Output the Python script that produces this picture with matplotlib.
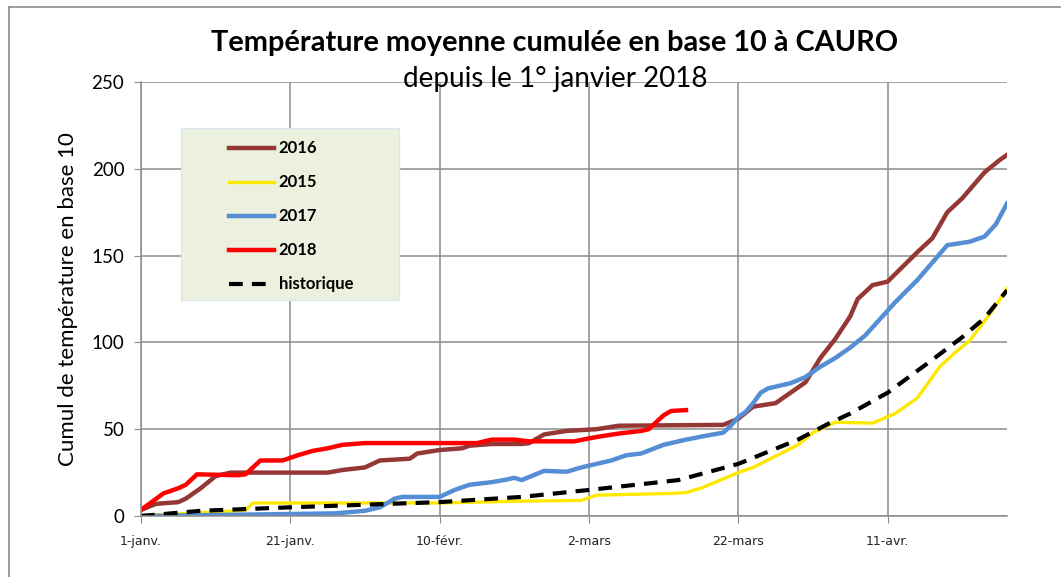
import matplotlib
matplotlib.use("Agg")
import matplotlib.pyplot as plt
from matplotlib.lines import Line2D
from matplotlib.patches import Rectangle

# jours depuis le 1er janvier (index de categorie) et cumul en base 10
jours_2016 = [0, 2, 5, 6, 8, 10, 12, 25, 27, 30, 32, 36, 37, 40, 43, 44, 47, 51, 52, 54, 57, 61, 64,
              78, 80, 82, 85, 87, 89, 91, 93, 95, 96, 98, 100, 104, 106, 108, 110, 113, 115, 116]
cumul_2016 = [3.5, 7, 8, 10, 16, 23, 25, 25, 26.5, 28, 32, 33, 36, 38, 39, 40.5, 41.5, 41.5, 42, 47, 49, 50, 52,
              52.5, 56, 63, 65, 71, 77, 91, 102, 115, 125, 133, 135, 152, 160, 175, 183, 198, 205, 208]

jours_2015 = [0, 5, 10, 14, 15, 40, 50, 59, 61, 71, 73, 75, 80, 82, 88, 90, 93, 98, 101, 104, 106, 107,
              109, 111, 114, 116]
cumul_2015 = [0.3, 1.3, 2.3, 3.3, 7.5, 7.5, 8.5, 9, 12, 13, 13.5, 16, 25, 28, 41, 48, 54, 53.5, 59, 68, 80, 86,
              94, 101, 118, 131]

jours_2017 = [0, 26, 30, 32, 34, 35, 40, 42, 44, 47, 49, 50, 51, 54, 57, 59, 61, 63, 65, 67, 70, 73, 76,
              78, 79, 80, 81, 82, 83, 84, 87, 89, 91, 93, 95, 97, 101, 104, 108, 111, 113, 114.5, 116]
cumul_2017 = [0, 1.5, 3, 5, 10, 11, 11, 15, 18, 19.5, 21, 22, 20.7, 26, 25.5, 28, 30, 32, 35, 36, 41, 44, 46.5,
              48, 52, 57, 60, 65, 71, 73.5, 76.5, 80, 86, 91, 97, 104, 123, 136, 156, 158, 161, 168, 180]

jours_2018 = [0, 3, 5, 6, 7.5, 13, 14, 16, 19, 21, 23, 25, 27, 30, 45, 47, 50, 52, 58, 61, 64, 67, 68,
              70, 71, 73]
cumul_2018 = [3.5, 13, 16, 18, 24, 23.5, 24, 32, 32, 35, 37.5, 39, 41, 42, 42, 44, 44, 43, 43, 45.5, 47.5, 49, 50,
              58, 60.5, 61]

jours_hist = [0, 8, 20, 40, 51, 60, 72, 80, 88, 92, 95, 100, 106, 110, 113, 116]
cumul_hist = [0, 3, 5, 8, 11, 15, 20.7, 30, 44, 53, 59, 71, 90, 103, 114, 130]

tick_pos = [0, 20, 40, 60, 80, 100]
tick_labels = ["1-janv.", "21-janv.", "10-févr.", "2-mars", "22-mars", "11-avr."]

W, H = 1061, 577
fig = plt.figure(figsize=(W / 100, H / 100), dpi=100)
ax = fig.add_axes([141 / W, 1 - 516 / H, (1007 - 141) / W, (516 - 82) / H])

grid_col = "#8c8c8c"

l16, = ax.plot(jours_2016, cumul_2016, color="#953735", lw=3.2, label="2016")
l15, = ax.plot(jours_2015, cumul_2015, color="#FFE800", lw=2.4, label="2015")
l17, = ax.plot(jours_2017, cumul_2017, color="#558ED5", lw=3.2, label="2017")
l18, = ax.plot(jours_2018, cumul_2018, color="#FF0000", lw=3.2, label="2018")
lh, = ax.plot(jours_hist, cumul_hist, color="black", lw=3.0, dashes=(3.3, 2.2), label="historique")

ax.set_xlim(0, 116)
ax.set_ylim(0, 250)
ax.set_xticks(tick_pos)
ax.set_xticklabels(tick_labels, fontsize=9, family="DejaVu Sans", color="#222222")
ax.set_yticks(range(0, 251, 50))
ax.tick_params(axis="y", labelsize=13.5, length=5, color=grid_col, pad=7)
ax.tick_params(axis="x", length=5, color=grid_col, pad=9)
for t in ax.get_yticklabels():
    t.set_family("Lato")
ax.grid(True, color=grid_col, lw=1.1)
ax.set_axisbelow(True)
for s in ["top", "right"]:
    ax.spines[s].set_visible(False)
for s in ["left", "bottom"]:
    ax.spines[s].set_color(grid_col)
    ax.spines[s].set_linewidth(1.1)

ax.set_ylabel("Cumul de température en base 10", fontsize=16, family="Lato", labelpad=10)

fig.text(555 / W, 1 - 43 / H, "Température moyenne cumulée en base 10 à CAURO",
         ha="center", va="center", fontsize=20.8, fontweight="bold", family="Lato")
fig.text(555 / W, 1 - 79 / H, "depuis le 1° janvier 2018",
         ha="center", va="center", fontsize=20, family="Lato")

# cadre du graphique (bords gauche et haut visibles)
fig.add_artist(Line2D([9 / W, 9 / W], [0, 1 - 7 / H], color="#8c8c8c", lw=1.2))
fig.add_artist(Line2D([9 / W, 1], [1 - 7 / H, 1 - 7 / H], color="#8c8c8c", lw=1.2))

# fond de la legende
fig.add_artist(Rectangle((181 / W, 1 - 300 / H), (399 - 181) / W, (300 - 128) / H,
                         transform=fig.transFigure, facecolor="#EBF1DE", edgecolor="#DCE6F0", lw=1))
leg = fig.legend(handles=[l16, l15, l17, l18, lh], loc="upper left",
                 bbox_to_anchor=(221 / W, 1 - 132 / H), frameon=False, borderpad=0,
                 handlelength=2.7, handletextpad=0.25, labelspacing=1.08,
                 prop={"family": "Lato", "weight": "bold", "size": 12})

fig.savefig("out.png", dpi=100)
